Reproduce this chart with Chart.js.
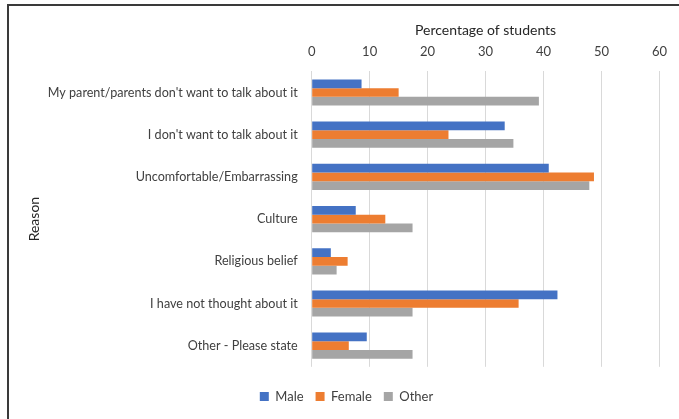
<!DOCTYPE html>
<html>
<head>
<meta charset="utf-8">
<script src="https://cdn.jsdelivr.net/npm/chart.js@4.4.1/dist/chart.umd.min.js"></script>
<style>
    html, body { margin: 0; padding: 0; background: #fff; }
    #frame {
        position: absolute;
        left: 7px; top: 4px;
        width: 700px; height: 440px;
        border-left: 2px solid #3a3a3a;
        border-top: 2px solid #3a3a3a;
    }
    #wrap { position: absolute; left: 0; top: 0; width: 679px; height: 419px; }
</style>
</head>
<body>
<div id="frame"></div>
<div id="wrap"><canvas id="reasonChart"></canvas></div>
<script>
// Reasons and percentage of students per gender group
const reasons = [
    "My parent/parents don't want to talk about it",
    "I don't want to talk about it",
    "Uncomfortable/Embarrassing",
    "Culture",
    "Religious belief",
    "I have not thought about it",
    "Other - Please state"
];
const maleValues = [8.6, 33.3, 40.9, 7.6, 3.3, 42.4, 9.5];
const femaleValues = [15.0, 23.6, 48.7, 12.7, 6.2, 35.7, 6.4];
const otherValues = [39.2, 34.8, 47.9, 17.4, 4.3, 17.4, 17.4];
const xTicks = [0, 10, 20, 30, 40, 50, 60];

const fontFamily = "Lato, 'Open Sans', sans-serif";
const textColor = '#404040';

function renderChart() {
    const ctx = document.getElementById('reasonChart').getContext('2d');

    new Chart(ctx, {
        type: 'bar',
        data: {
            labels: reasons,
            datasets: [
                { label: 'Male', data: maleValues, backgroundColor: '#4472C4' },
                { label: 'Female', data: femaleValues, backgroundColor: '#ED7D31' },
                { label: 'Other', data: otherValues, backgroundColor: '#A5A5A5' }
            ]
        },
        options: {
            indexAxis: 'y',
            responsive: true,
            maintainAspectRatio: false,
            animation: false,
            layout: {
                padding: { left: 22, right: 8, top: 22, bottom: 6 }
            },
            datasets: {
                bar: { categoryPercentage: 0.62, barPercentage: 1.0, borderWidth: 0 }
            },
            scales: {
                x: {
                    position: 'top',
                    min: 0,
                    max: 60,
                    afterBuildTicks: axis => {
                        axis.ticks = xTicks.map(v => ({ value: v }));
                    },
                    grid: { color: '#d9d9d9', lineWidth: 1, drawTicks: false },
                    border: { display: false },
                    ticks: {
                        padding: 12,
                        color: textColor,
                        font: { family: fontFamily, size: 13 }
                    },
                    title: {
                        display: true,
                        text: 'Percentage of students',
                        color: '#262626',
                        padding: { top: 0, bottom: -7 },
                        font: { family: fontFamily, size: 14 }
                    }
                },
                y: {
                    grid: { display: false, drawTicks: false },
                    border: { display: false },
                    ticks: {
                        padding: 14,
                        color: textColor,
                        font: { family: fontFamily, size: 12.6 }
                    },
                    title: {
                        display: true,
                        text: 'Reason',
                        color: '#262626',
                        padding: { top: 4, bottom: -9 },
                        font: { family: fontFamily, size: 14 }
                    }
                }
            },
            plugins: {
                legend: {
                    position: 'bottom',
                    // empty title only adds space between plot and legend row
                    title: {
                        display: true,
                        text: '',
                        font: { size: 1 },
                        padding: { top: 0, bottom: 10 }
                    },
                    labels: {
                        boxWidth: 9,
                        boxHeight: 9,
                        padding: 12,
                        color: textColor,
                        font: { family: fontFamily, size: 13 }
                    }
                },
                tooltip: { enabled: false }
            }
        }
    });
}

document.addEventListener('DOMContentLoaded', () => {
    renderChart();
});
</script>
</body>
</html>
